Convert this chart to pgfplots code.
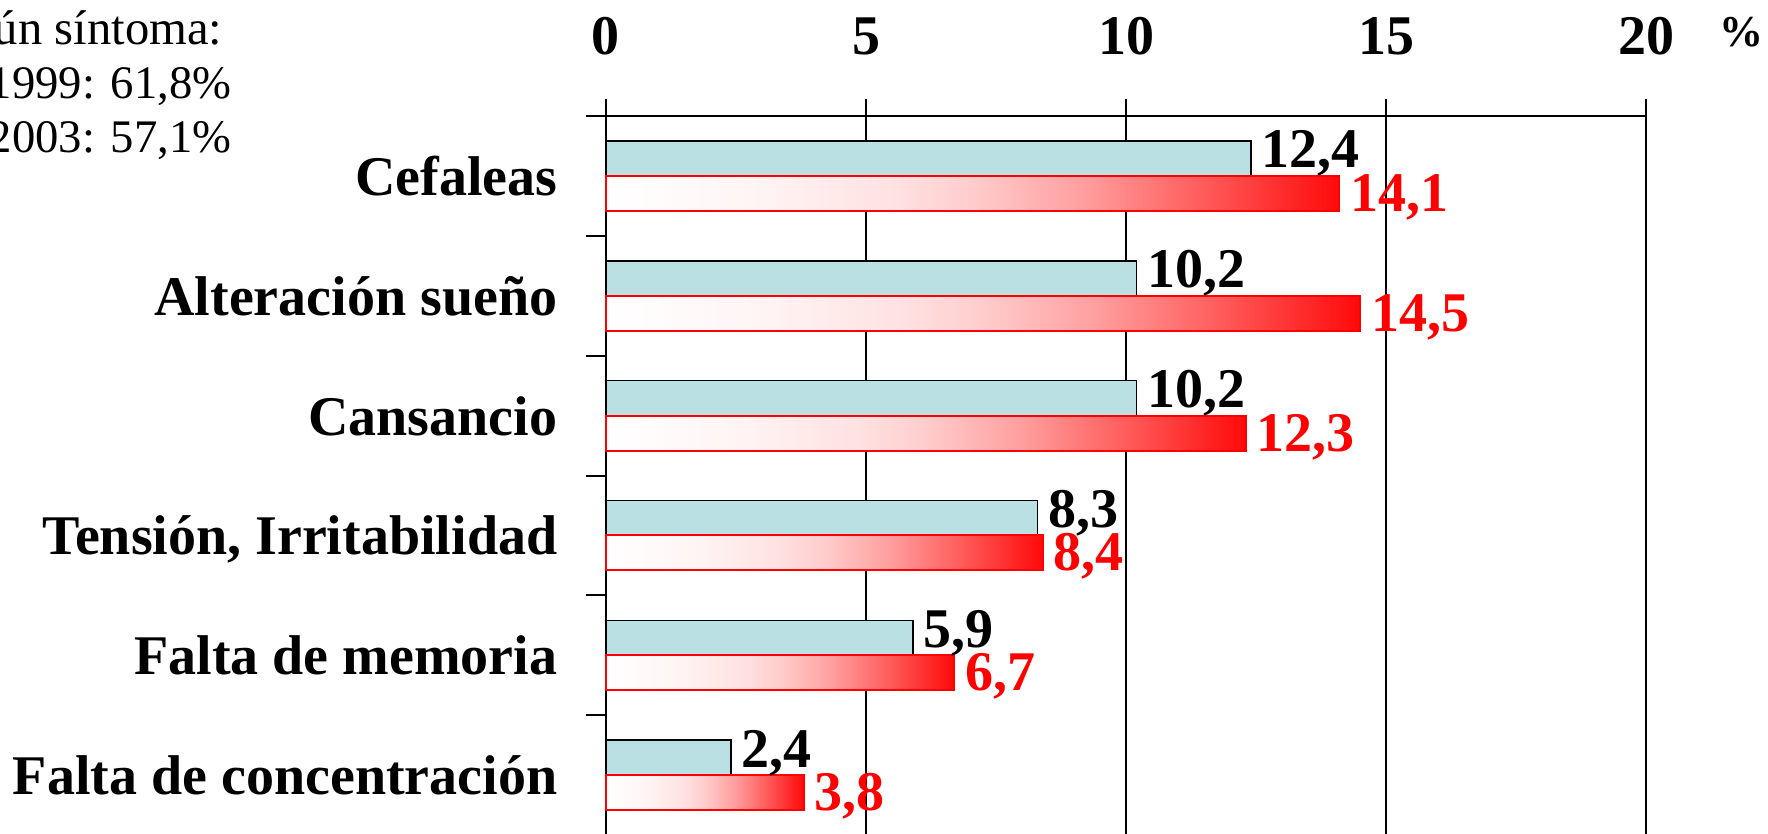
\documentclass[border=0pt]{standalone}
\usepackage{pgfplots}
\pgfplotsset{compat=1.18}
\usepackage{fontspec}
\setmainfont{Liberation Serif}
\definecolor{barblue}{HTML}{BBE0E3}
\pgfdeclarehorizontalshading{redfade}{100bp}{color(0bp)=(white); color(25bp)=(white); color(35bp)=(red!4); color(45bp)=(red!12); color(50bp)=(red!20); color(57.5bp)=(red!38); color(65bp)=(red!62); color(75bp)=(red!96); color(100bp)=(red!96)}
\newcommand\bigbf{\fontsize{16.8pt}{18pt}\selectfont\bfseries}
\pgfplotsset{
  redbar/.style={xbar, shading=redfade, draw=red, line width=0.6pt,
    every node near coord/.append style={font=\bigbf, text=red, anchor=base west, inner sep=0pt, xshift=3pt, yshift=-5.4pt}},
}
\begin{document}
\begin{tikzpicture}[x=0.3pt,y=0.3pt]
\path[use as bounding box, clip] (0,0) rectangle (1768,833);
\node[anchor=base east, inner sep=0pt, font=\fontsize{14.6pt}{16pt}\selectfont] at (223,788) {Algún síntoma:};
\node[anchor=base east, inner sep=0pt, font=\fontsize{14pt}{16pt}\selectfont] at (232,734) {1999: 61,8\%};
\node[anchor=base east, inner sep=0pt, font=\fontsize{14pt}{16pt}\selectfont] at (232,680) {2003: 57,1\%};
\node[anchor=base, inner sep=0pt, font=\fontsize{13.2pt}{15pt}\selectfont\bfseries] at (1741.7,786.3) {\%};
\begin{axis}[
  at={(181.8pt,-0.6pt)}, anchor=south west,
  scale only axis, width=312pt, height=215.7pt,
  xmin=0, xmax=20, ymin=-0.5, ymax=5.5,
  axis x line*=top, axis y line*=left,
  axis line style={line width=0.6pt, -},
  xtick={0,5,10,15,20},
  /pgf/number format/assume math mode=true,
  xmajorgrids, grid style={black, line width=0.5pt},
  ytick={0.5,1.5,2.5,3.5,4.5,5.5}, yticklabels={},
  tick align=outside,
  xtick style={black, line width=0.5pt, /pgfplots/major tick length=5.1pt},
  ytick style={black, line width=0.6pt, /pgfplots/major tick length=6pt},
  xticklabel style={font=\bigbf, anchor=base, yshift=14.2pt, inner sep=0pt},
  clip=false,
  xbar, bar width=10.5pt, bar shift=0pt,
  point meta=x,
  nodes near coords={\pgfmathprintnumber[fixed, fixed zerofill, precision=1, use comma, assume math mode=true]{\pgfplotspointmeta}},
]
\addplot[xbar, fill=barblue, draw=black, line width=0.45pt,
  every node near coord/.append style={font=\bigbf, text=black, anchor=base west, inner sep=0pt, xshift=3pt, yshift=-2.85pt}]
  coordinates {(12.4,5.146) (10.2,4.146) (10.2,3.146) (8.3,2.146) (5.9,1.146) (2.4,0.146)};
\addplot[redbar] coordinates {(14.1,4.854)};
\addplot[redbar] coordinates {(14.5,3.854)};
\addplot[redbar] coordinates {(12.3,2.854)};
\addplot[redbar] coordinates {(8.4,1.854)};
\addplot[redbar] coordinates {(6.7,0.854)};
\addplot[redbar] coordinates {(3.8,-0.146)};
\node[anchor=base east, inner sep=0pt, font=\bigbf, xshift=-14.4pt, yshift=-5.85pt] at (axis cs:0,5) {Cefaleas};
\node[anchor=base east, inner sep=0pt, font=\bigbf, xshift=-14.4pt, yshift=-5.85pt] at (axis cs:0,4) {Alteración sueño};
\node[anchor=base east, inner sep=0pt, font=\bigbf, xshift=-14.4pt, yshift=-5.85pt] at (axis cs:0,3) {Cansancio};
\node[anchor=base east, inner sep=0pt, font=\bigbf, xshift=-14.4pt, yshift=-5.85pt] at (axis cs:0,2) {Tensión, Irritabilidad};
\node[anchor=base east, inner sep=0pt, font=\bigbf, xshift=-14.4pt, yshift=-5.85pt] at (axis cs:0,1) {Falta de memoria};
\node[anchor=base east, inner sep=0pt, font=\bigbf, xshift=-14.4pt, yshift=-5.85pt] at (axis cs:0,0) {Falta de concentración};
\end{axis}
\end{tikzpicture}
\end{document}
